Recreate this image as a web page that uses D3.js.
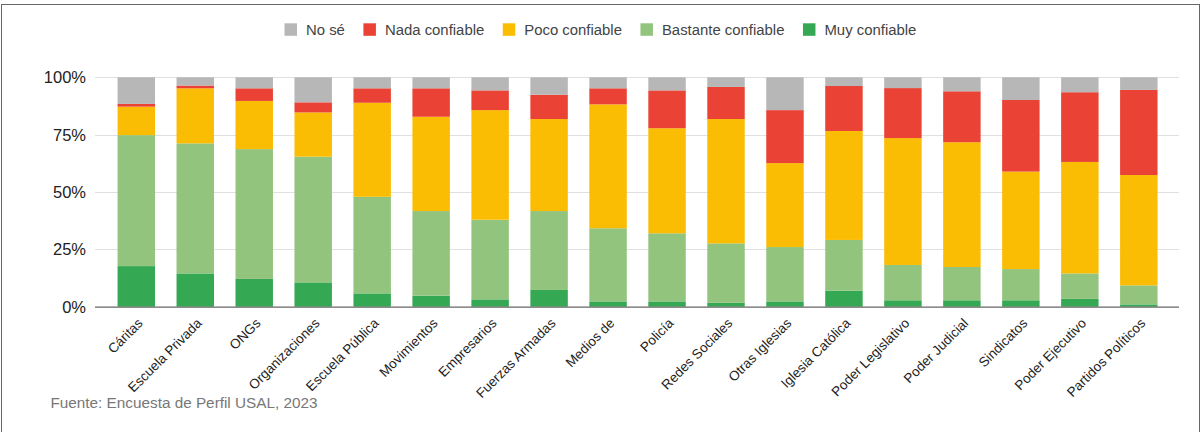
<!DOCTYPE html>
<html><head><meta charset="utf-8">
<script src="https://cdn.jsdelivr.net/npm/d3@7"></script>
<style>
html,body{margin:0;padding:0;background:#fff;}
svg{display:block;font-family:Arial,"Liberation Sans",sans-serif;}
</style></head>
<body>
<svg id="c" width="1203" height="432"></svg>
<script>
const categories = ["Cáritas","Escuela Privada","ONGs","Organizaciones","Escuela Pública","Movimientos","Empresarios","Fuerzas Armadas","Medios de","Policía","Redes Sociales","Otras Iglesias","Iglesia Católica","Poder Legislativo","Poder Judicial","Sindicatos","Poder Ejecutivo","Partidos Políticos"];
const muyConfiable      = [17.7,14.5,12.1,10.6, 5.8, 4.8, 3.2, 7.3, 2.3, 2.3, 1.7, 2.3, 7.0, 2.8, 2.8, 2.8, 3.4, 1.0];
const bastanteConfiable = [57.1,56.7,56.6,54.8,42.1,36.9,34.7,34.4,31.9,29.7,25.9,23.7,22.1,15.4,14.5,13.6,11.1, 8.3];
const pocoConfiable     = [12.4,24.0,21.0,19.3,41.0,41.1,47.8,40.1,54.0,45.8,54.2,36.6,47.5,55.3,54.4,42.5,48.6,48.1];
const nadaConfiable     = [ 1.2, 1.2, 5.5, 4.4, 6.3,12.4, 8.6,10.6, 7.0,16.5,14.0,23.1,19.6,21.8,22.2,31.2,30.4,37.1];
const noSe              = [11.6, 3.6, 4.8,10.9, 4.8, 4.8, 5.7, 7.6, 4.8, 5.7, 4.2,14.3, 3.8, 4.7, 6.1, 9.9, 6.5, 5.5];
const seriesNames = ["Muy confiable","Bastante confiable","Poco confiable","Nada confiable","No sé"];
const seriesColors = ["#34a853","#93c47d","#fbbc04","#ea4335","#b7b7b7"];
const yTicks = [0,25,50,75,100];
const legendOrder = ["No sé","Nada confiable","Poco confiable","Bastante confiable","Muy confiable"];
const sourceText = "Fuente: Encuesta de Perfil USAL, 2023";

const seriesValues = [muyConfiable,bastanteConfiable,pocoConfiable,nadaConfiable,noSe];
const rows = categories.map((c,i)=>{const r={cat:c}; seriesNames.forEach((s,j)=>r[s]=seriesValues[j][i]); return r;});
const stacked = d3.stack().keys(seriesNames).offset(d3.stackOffsetExpand)(rows);

const svg = d3.select("#c");
// frame
svg.append("rect").attr("x",1.5).attr("y",4.5).attr("width",1198).attr("height",440)
  .attr("fill","none").attr("stroke","#666").attr("stroke-width",1);

const x = d3.scaleBand().domain(categories).range([106.8,1168.3]).paddingInner(0.365).paddingOuter(0.1825);
const y = d3.scaleLinear().domain([0,1]).range([306.7,77.3]);
const gridX0 = 95, gridX1 = 1179;

// gridlines
svg.append("g").selectAll("line").data(yTicks.filter(t=>t>0)).join("line")
  .attr("x1",gridX0).attr("x2",gridX1)
  .attr("y1",d=>Math.round(y(d/100))+0.5).attr("y2",d=>Math.round(y(d/100))+0.5)
  .attr("stroke","#e0e0e0").attr("stroke-width",1);

// y labels
svg.append("g").selectAll("text").data(yTicks).join("text")
  .attr("x",86).attr("y",d=>y(d/100)).attr("dy","0.36em")
  .attr("text-anchor","end").attr("font-size","16.5px").attr("fill","#222")
  .text(d=>d+"%");

// bars
const cmap = d3.scaleOrdinal().domain(seriesNames).range(seriesColors);
svg.append("g").selectAll("g").data(stacked).join("g")
  .attr("fill",d=>cmap(d.key))
  .selectAll("rect").data(d=>d).join("rect")
  .attr("x",d=>x(d.data.cat)).attr("width",x.bandwidth())
  .attr("y",d=>y(d[1])).attr("height",d=>y(d[0])-y(d[1]));

// baseline axis
svg.append("line").attr("x1",gridX0).attr("x2",gridX1)
  .attr("y1",y(0)+0.5).attr("y2",y(0)+0.5).attr("stroke","#666").attr("stroke-width",1.2);

// x labels
svg.append("g").selectAll("text").data(categories).join("text")
  .attr("transform",d=>`translate(${x(d)+x.bandwidth()/2+4},${y(0)+14}) rotate(-45)`)
  .attr("text-anchor","end").attr("dy","0.35em")
  .attr("font-size","13.5px").attr("fill","#222").text(d=>d);

// legend
const lg = svg.append("g");
let lx = 284.5;
legendOrder.forEach(name=>{
  const col = seriesColors[seriesNames.indexOf(name)];
  lg.append("rect").attr("x",lx).attr("y",23.3).attr("width",12.5).attr("height",12.5).attr("fill",col);
  const t = lg.append("text").attr("x",lx+21.5).attr("y",34.5).attr("font-size","14.9px").attr("fill","#444").text(name);
  lx = lx + 21.5 + t.node().getComputedTextLength() + 18.5;
});

// source
svg.append("text").attr("x",50.5).attr("y",407.7).attr("font-size","15.3px").attr("fill","#777").text(sourceText);
</script>
</body></html>
